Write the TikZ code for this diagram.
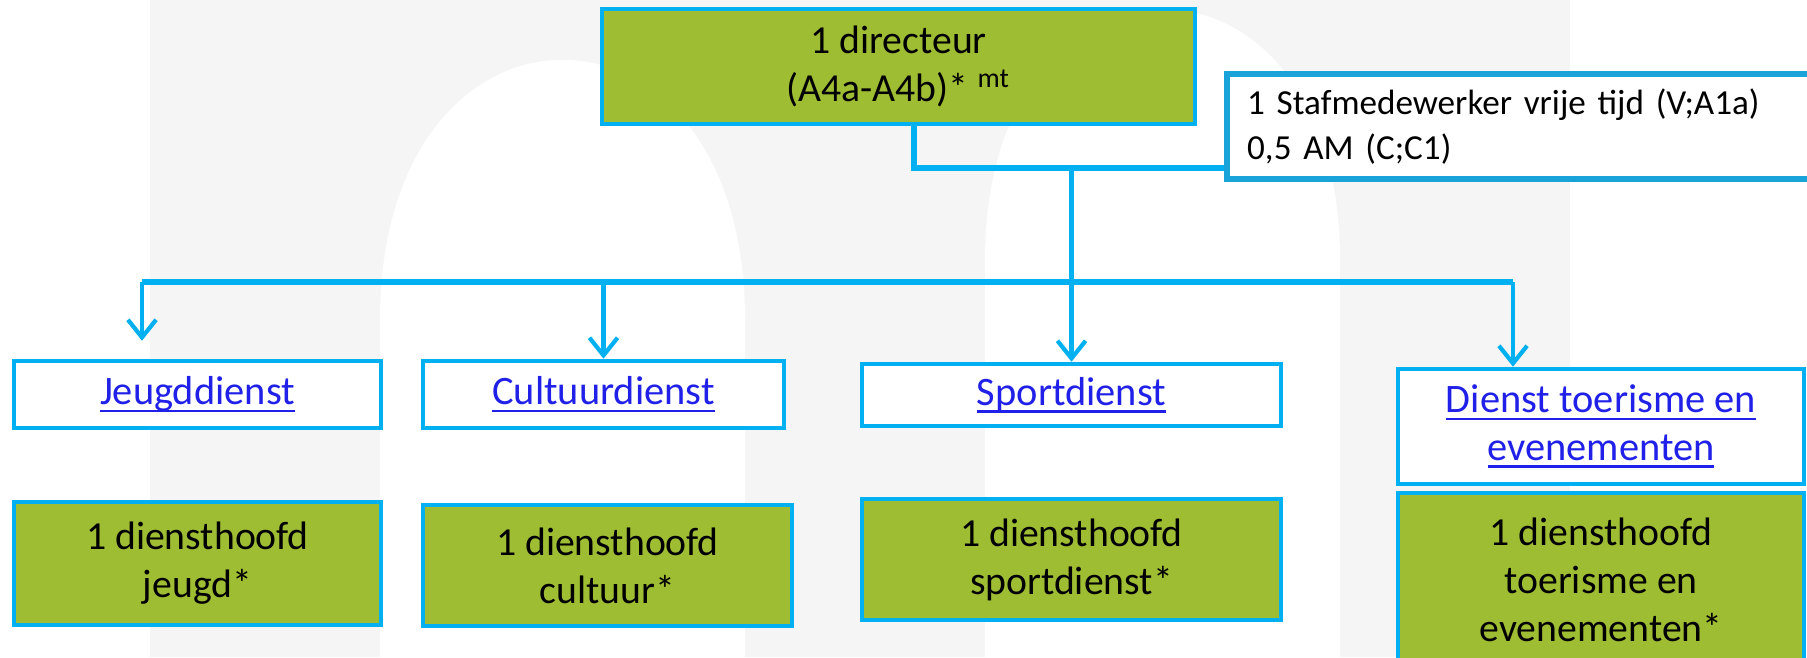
\documentclass[tikz,border=0pt]{standalone}
\usepackage{fontspec}
\setmainfont{Carlito}
\usepackage{xcolor}
\usetikzlibrary{arrows.meta,calc}

\definecolor{orgblue}{HTML}{00B0F0}
\definecolor{staffblue}{HTML}{1AA3D8}
\definecolor{orggreen}{HTML}{9FBD33}
\definecolor{linkblue}{HTML}{2020E8}
\definecolor{markgray}{HTML}{F5F5F5}

\newcommand{\linktext}[1]{\sbox0{#1}\rlap{\rule[-2.2pt]{\wd0}{0.8pt}}\usebox0}

\begin{document}
\begin{tikzpicture}[
  headbox/.style={rectangle,draw=orgblue,line width=1.3pt,fill=orggreen,align=center,font=\fontsize{11.3}{13.6}\selectfont},
  unitbox/.style={rectangle,draw=orgblue,line width=1.3pt,fill=white,align=center,text=linkblue,font=\fontsize{11.5}{13.6}\selectfont},
  staffbox/.style={rectangle,draw=staffblue,line width=1.8pt,fill=white,align=left,text width=5.9cm,inner xsep=0.2cm,font=\fontsize{10}{12.8}\selectfont},
  bus/.style={orgblue,line width=1.6pt},
  feed/.style={orgblue,line width=1.2pt,-{Straight Barb[length=5pt,width=8pt]}}
]
\useasboundingbox (0,0) rectangle (18.07,-6.57);
\clip (0,0) rectangle (18.07,-6.57);

% Background logo
\fill[markgray] (1.5,0) rectangle (15.7,-6.57);
\fill[white] (3.8,-6.57) -- (3.8,-3.2) .. controls (3.8,0.27) and (7.45,0.27) .. (7.45,-3.2) -- (7.45,-6.57) -- cycle;
\fill[white] (9.85,-6.57) -- (9.85,-2.6) .. controls (9.85,0.75) and (13.4,0.75) .. (13.4,-2.6) -- (13.4,-6.57) -- cycle;

% Director and staff
\node[headbox,minimum width=5.93cm,minimum height=1.15cm] (dir) at (8.985,-0.665) {1 directeur\\(A4a-A4b)* \textsuperscript{mt}};
\node[staffbox,anchor=north west,minimum height=1.05cm] (staff) at (12.24,-0.71) {1 Stafmedewerker vrije tijd (V;A1a)\\0,5 AM (C;C1)};

% Services
\node[unitbox,minimum width=3.67cm,minimum height=0.67cm] (jeugd) at (1.975,-3.945) {\linktext{Jeugddienst}};
\node[unitbox,minimum width=3.61cm,minimum height=0.67cm] (cult) at (6.035,-3.945) {\linktext{Cultuurdienst}};
\node[unitbox,minimum width=4.19cm,minimum height=0.62cm] (sport) at (10.715,-3.95) {\linktext{Sportdienst}};
\node[unitbox,minimum width=4.06cm,minimum height=1.15cm] (toer) at (16.01,-4.265) {\linktext{Dienst toerisme en}\\\linktext{evenementen}};

% Heads of service
\node[headbox,minimum width=3.67cm,minimum height=1.23cm] (jeugdhead) at (1.975,-5.635) {1 diensthoofd\\jeugd*};
\node[headbox,minimum width=3.69cm,minimum height=1.21cm] (culthead) at (6.075,-5.655) {1 diensthoofd\\cultuur*};
\node[headbox,minimum width=4.19cm,minimum height=1.21cm] (sporthead) at (10.715,-5.595) {1 diensthoofd\\sportdienst*};
\node[headbox,minimum width=4.06cm,minimum height=1.74cm] (toerhead) at (16.01,-5.8) {1 diensthoofd\\toerisme en\\evenementen*};

% Connectors
\coordinate (elbow) at (9.14,-1.68);
\coordinate (busl) at (1.42,-2.82);
\coordinate (busr) at (15.13,-2.82);
\draw[bus] (dir.south -| elbow) -- (elbow) -- (elbow -| staff.west);
\draw[bus] (busl) -- (busr);
\draw[feed] (sport.north |- elbow) -- (sport.north);
\draw[feed,shorten >=0.18cm] (busl) -- (busl |- jeugd.north);
\draw[feed] (cult.north |- busl) -- (cult.north);
\draw[feed] (busr) -- (busr |- toer.north);
\end{tikzpicture}
\end{document}
